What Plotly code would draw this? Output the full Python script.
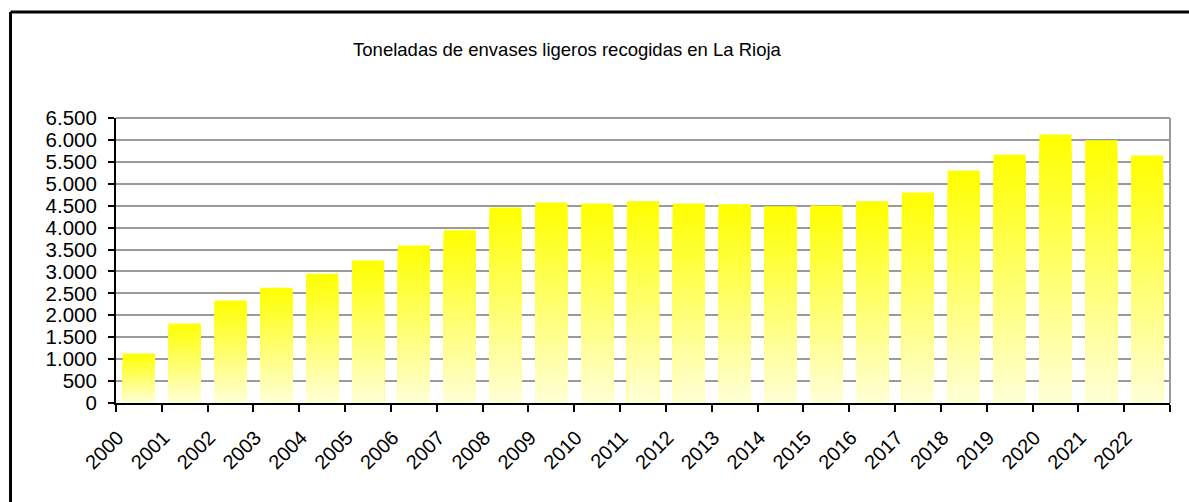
import plotly.graph_objects as go

years = [str(y) for y in range(2000, 2023)]
tonnes = [1130, 1815, 2340, 2630, 2950, 3250, 3590, 3940, 4460, 4575, 4550, 4600,
          4550, 4535, 4490, 4505, 4600, 4800, 5300, 5670, 6125, 5990, 5645]
title_text = "Toneladas de envases ligeros recogidas en La Rioja"

W, H = 1189, 502
ML, MT = 116, 117.5
MR = W - 1170
MB = H - 402.7
PW, PH = W - ML - MR, H - MT - MB

# gradient: top pure yellow, bottom pale yellow (drawn as overlaid bands)
N = 40
top_rgb = (255, 255, 0)
bot_rgb = (255, 255, 215)

fig = go.Figure()
for k in range(N, 0, -1):
    f = k / N
    t = (k - 0.5) / N
    col = tuple(round(bot_rgb[i] + (top_rgb[i] - bot_rgb[i]) * t) for i in range(3))
    fig.add_trace(go.Bar(
        x=years, y=[v * f for v in tonnes],
        marker=dict(color="rgb(%d,%d,%d)" % col, line=dict(width=0)),
        showlegend=False, hoverinfo="skip" if k != N else None,
    ))

font_family = "Liberation Sans, Arial, Helvetica, sans-serif"

fig.update_layout(
    width=W, height=H,
    margin=dict(l=ML, r=MR, t=MT, b=MB, pad=0),
    paper_bgcolor="white", plot_bgcolor="white",
    barmode="overlay", bargap=0.3,
    separators=",.",
    font=dict(family=font_family, color="black"),
    title=dict(text=title_text, x=567 / W, xanchor="center",
               y=1 - 50 / H, yanchor="middle", xref="container", yref="container",
               font=dict(size=18.5, family=font_family, color="black")),
    showlegend=False,
)
fig.update_yaxes(
    range=[0, 6500], dtick=500, tick0=0, tickformat=",d",
    showgrid=True, gridcolor="#9a9a9a", gridwidth=2,
    zeroline=False, showline=True, linecolor="black", linewidth=2,
    ticks="outside", ticklen=6, tickwidth=2, tickcolor="black",
    ticklabelstandoff=7,
    tickfont=dict(size=20.5, family=font_family, color="black"),
    fixedrange=True,
)
fig.update_xaxes(
    type="category", showgrid=False, zeroline=False,
    showline=True, linecolor="black", linewidth=2,
    ticks="outside", ticklen=7, tickwidth=2, tickcolor="black",
    tickson="boundaries", tickangle=-45,
    ticklabelshift=-21, ticklabelstandoff=13,
    tickfont=dict(size=20, family=font_family, color="black"),
    fixedrange=True,
)

# plot-area border on right and top (grey)
fig.add_shape(type="line", xref="paper", yref="paper", x0=1, x1=1, y0=0, y1=1,
              line=dict(color="#9a9a9a", width=2), layer="above")
fig.add_shape(type="line", xref="paper", yref="paper", x0=0, x1=1, y0=1, y1=1,
              line=dict(color="#9a9a9a", width=2), layer="above")

# outer chart border (only top and left are inside the window)
bx0 = (10.5 - ML) / PW
by1 = (H - 11.5 - MB) / PH
fig.add_shape(type="line", xref="paper", yref="paper",
              x0=bx0, x1=(W - ML) / PW, y0=by1, y1=by1,
              line=dict(color="black", width=3), layer="above")
fig.add_shape(type="line", xref="paper", yref="paper",
              x0=bx0, x1=bx0, y0=-MB / PH, y1=by1,
              line=dict(color="black", width=3), layer="above")

fig.write_html(
    "out.html",
    config={"displayModeBar": False},
    post_script="document.body.style.margin='0';document.body.style.overflow='hidden';",
)
